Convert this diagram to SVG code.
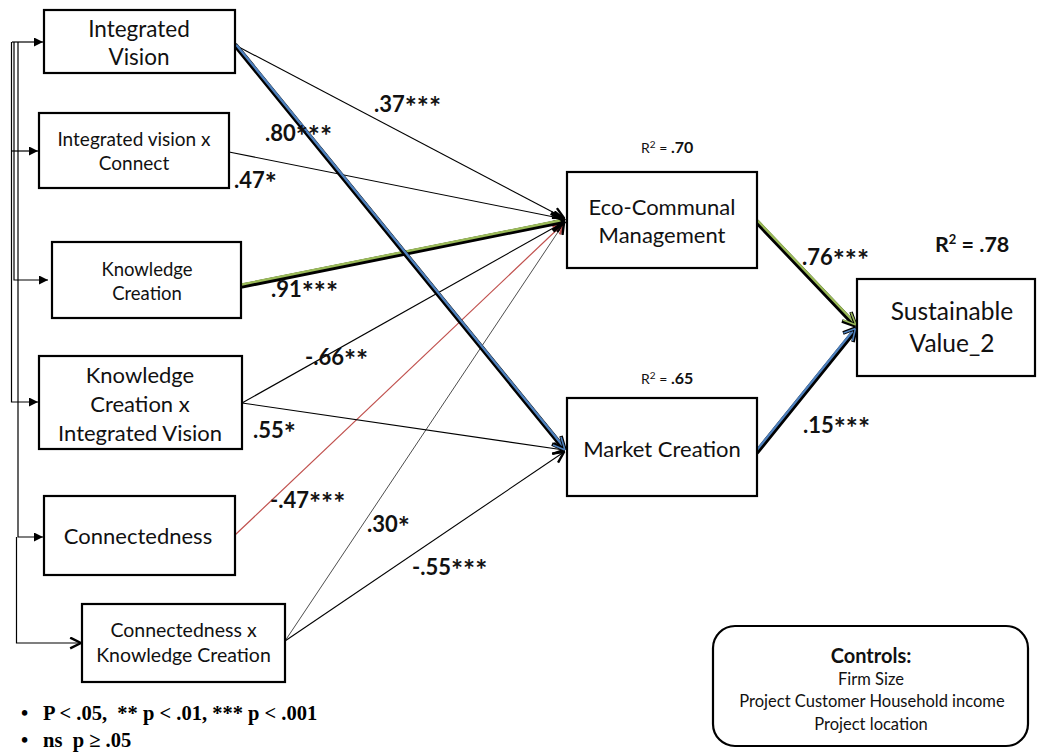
<svg xmlns="http://www.w3.org/2000/svg" width="1037" height="752" viewBox="0 0 1037 752">
  <style>
    .box { fill: #ffffff; stroke: #000000; stroke-width: 2.2; }
    .lbl { font-family: Lato, "Open Sans", sans-serif; fill: #111111; text-anchor: middle; }
    .coef { font-family: Lato, "Open Sans", sans-serif; font-weight: bold; font-size: 22px; fill: #111111; }
    .st { font-size: 28.5px; }
    .r2 { font-family: Lato, "Open Sans", sans-serif; font-size: 14px; fill: #111111; }
    .note { font-family: "Liberation Serif", "Times New Roman", serif; font-weight: bold; font-size: 20.5px; fill: #000000; }
    .thin { fill: none; stroke: #000000; stroke-width: 1.1; }
    .hair { fill: none; stroke: #000000; stroke-width: 0.7; }
    .red { fill: none; stroke: #c0504d; stroke-width: 1.2; }
    .shadow { fill: none; stroke: #000000; stroke-width: 5; stroke-linecap: round; }
    .blue { fill: none; stroke: #4f81bd; stroke-width: 2.4; stroke-linecap: round; }
    .green { fill: none; stroke: #9bbb59; stroke-width: 2.4; stroke-linecap: round; }
    .feed { fill: none; stroke: #000000; stroke-width: 1.2; }
  </style>
  <defs>
    <marker id="tri" viewBox="0 0 10 10" refX="10" refY="5" markerUnits="userSpaceOnUse" markerWidth="10" markerHeight="9" orient="auto">
      <path d="M0,0 L10,5 L0,10 z" fill="#000000"/>
    </marker>
    <marker id="vee" viewBox="0 0 12 12" refX="11" refY="6" markerUnits="userSpaceOnUse" markerWidth="13" markerHeight="13" orient="auto">
      <path d="M1,1 L11,6 L1,11" fill="none" stroke="#000000" stroke-width="2.2" stroke-linejoin="miter"/>
    </marker>
    <marker id="veeRed" viewBox="0 0 12 12" refX="11" refY="6" markerUnits="userSpaceOnUse" markerWidth="13" markerHeight="13" orient="auto">
      <path d="M1,1 L11,6 L1,11" fill="none" stroke="#c0504d" stroke-width="2.2"/>
    </marker>
  </defs>

  <rect width="1037" height="752" fill="#ffffff"/>

  <!-- feedback bracket on the left feeding every predictor -->
  <g id="bracket">
    <path class="feed" d="M12,42 H43" marker-end="url(#tri)"/>
    <path class="feed" d="M11.5,42 V402 H38" marker-end="url(#tri)"/>
    <path class="feed" d="M11.5,151 H38" marker-end="url(#tri)"/>
    <path class="feed" d="M14,42 V280 H48" marker-end="url(#tri)"/>
    <path class="feed" d="M18,42 V537 H43" marker-end="url(#tri)"/>
    <path class="feed" d="M16.5,537 V643 H81" marker-end="url(#vee)"/>
  </g>

  <!-- structural paths -->
  <g id="connectors">
    <!-- into Eco-Communal Management -->
    <path class="thin" d="M235,45 L564,218" marker-end="url(#vee)"/>
    <path class="thin" d="M229,152 L564,219" marker-end="url(#vee)"/>
    <path class="thin" d="M242,403 L564,222" marker-end="url(#vee)"/>
    <path class="red" d="M235,535 L564,223" marker-end="url(#veeRed)"/>
    <path class="hair" d="M285,641 L564,223" marker-end="url(#vee)"/>
    <!-- Knowledge Creation to Eco-Communal (bold green) -->
    <path class="shadow" d="M242,286 L560,222"/>
    <path class="green" d="M241.7,284.5 L559.7,220.5"/>
    <path d="M565,221 L551,213 M565,221 L553,231" fill="none" stroke="#000000" stroke-width="4"/>

    <!-- into Market Creation -->
    <path class="thin" d="M242,403 L564,450" marker-end="url(#vee)"/>
    <path class="thin" d="M285,641 L564,452" marker-end="url(#vee)"/>
    <!-- Integrated Vision to Market Creation (bold blue) -->
    <path class="shadow" d="M236,46 L561,445"/>
    <path class="blue" d="M236.8,45.4 L561.8,444.4"/>
    <path d="M565,450 L561,436 M565,450 L552,444" fill="none" stroke="#000000" stroke-width="3.6"/>
    <path d="M565,450 L561,437 M565,450 L553,445" fill="none" stroke="#4f81bd" stroke-width="1.6"/>

    <!-- into Sustainable Value_2 -->
    <path class="shadow" d="M757,222 L853,323"/>
    <path class="green" d="M758,221 L854,322"/>
    <path d="M856,326 L851,312 M856,326 L842,321" fill="none" stroke="#000000" stroke-width="3.6"/>
    <path d="M856,325 L851,312.5 M856,325 L843,320" fill="none" stroke="#9bbb59" stroke-width="1.6"/>

    <path class="shadow" d="M757,452 L853,333"/>
    <path class="blue" d="M756,451 L852,332"/>
    <path d="M856,328 L843,333 M856,328 L853,342" fill="none" stroke="#000000" stroke-width="3.6"/>
    <path d="M855.5,328.5 L843.5,333 M855.5,328.5 L852.5,341" fill="none" stroke="#4f81bd" stroke-width="1.6"/>
  </g>

  <!-- predictors -->
  <g id="integrated-vision">
    <rect class="box" x="44" y="10" width="191" height="63"/>
    <text class="lbl" font-size="22.5" x="139" y="37">Integrated</text>
    <text class="lbl" font-size="22.5" x="139" y="65">Vision</text>
  </g>
  <g id="iv-x-connect">
    <rect class="box" x="39" y="113" width="190" height="75"/>
    <text class="lbl" font-size="19" x="134" y="146">Integrated vision x</text>
    <text class="lbl" font-size="19" x="134" y="170">Connect</text>
  </g>
  <g id="knowledge-creation">
    <rect class="box" x="52" y="242" width="189" height="76"/>
    <text class="lbl" font-size="18.5" x="147" y="276">Knowledge</text>
    <text class="lbl" font-size="18.5" x="147" y="300">Creation</text>
  </g>
  <g id="kc-x-iv">
    <rect class="box" x="39" y="356" width="203" height="93"/>
    <text class="lbl" font-size="22" x="140" y="383">Knowledge</text>
    <text class="lbl" font-size="22" x="140" y="412">Creation x</text>
    <text class="lbl" font-size="22" x="140" y="441">Integrated Vision</text>
  </g>
  <g id="connectedness">
    <rect class="box" x="44" y="496" width="191" height="79"/>
    <text class="lbl" font-size="22" x="138" y="544">Connectedness</text>
  </g>
  <g id="conn-x-kc">
    <rect class="box" x="82" y="604" width="203" height="78"/>
    <text class="lbl" font-size="19.5" x="183.5" y="637">Connectedness x</text>
    <text class="lbl" font-size="19.5" x="183.5" y="662">Knowledge Creation</text>
  </g>

  <!-- mediators -->
  <g id="eco-communal">
    <rect class="box" x="567" y="172" width="190" height="96"/>
    <text class="lbl" font-size="22" x="662" y="215">Eco-Communal</text>
    <text class="lbl" font-size="22" x="662" y="243">Management</text>
    <text class="r2" x="641" y="153">R<tspan font-size="10" dy="-5">2</tspan><tspan dy="5"> = </tspan><tspan font-weight="bold" font-size="16">.70</tspan></text>
  </g>
  <g id="market-creation">
    <rect class="box" x="567" y="398" width="190" height="98"/>
    <text class="lbl" font-size="22" x="662" y="457">Market Creation</text>
    <text class="r2" x="641" y="384">R<tspan font-size="10" dy="-5">2</tspan><tspan dy="5"> = </tspan><tspan font-weight="bold" font-size="16">.65</tspan></text>
  </g>

  <!-- outcome -->
  <g id="sustainable-value">
    <rect class="box" x="857" y="279" width="178" height="97"/>
    <text class="lbl" font-size="24.5" x="952" y="320">Sustainable</text>
    <text class="lbl" font-size="24.5" x="952" y="352">Value_2</text>
    <text x="935" y="252" font-family="Lato, 'Open Sans', sans-serif" font-weight="bold" font-size="21.5" fill="#111111">R<tspan font-size="13" dy="-8">2</tspan><tspan dy="8"> = .78</tspan></text>
  </g>

  <!-- path coefficients -->
  <g id="coefficients">
    <text class="coef" x="374" y="112">.37<tspan class="st" dy="5">***</tspan></text>
    <text class="coef" x="265" y="141">.80<tspan class="st" dy="5">***</tspan></text>
    <text class="coef" x="234" y="188">.47<tspan class="st" dy="5">*</tspan></text>
    <text class="coef" x="271" y="297">.91<tspan class="st" dy="5">***</tspan></text>
    <text class="coef" x="305" y="365">-.66<tspan class="st" dy="5">**</tspan></text>
    <text class="coef" x="253" y="438">.55<tspan class="st" dy="5">*</tspan></text>
    <text class="coef" x="270" y="508">-.47<tspan class="st" dy="5">***</tspan></text>
    <text class="coef" x="367" y="532">.30<tspan class="st" dy="5">*</tspan></text>
    <text class="coef" x="412" y="575">-.55<tspan class="st" dy="5">***</tspan></text>
    <text class="coef" x="802" y="265">.76<tspan class="st" dy="5">***</tspan></text>
    <text class="coef" x="803" y="433">.15<tspan class="st" dy="5">***</tspan></text>
  </g>

  <!-- control variables -->
  <g id="controls">
    <rect class="box" x="713" y="626" width="315" height="120" rx="22" ry="22"/>
    <text class="lbl" font-size="20" font-weight="bold" x="871" y="663">Controls:</text>
    <text class="lbl" font-size="16.5" x="871" y="685">Firm Size</text>
    <text class="lbl" font-size="16.5" x="872" y="707">Project Customer Household income</text>
    <text class="lbl" font-size="16.5" x="871" y="730">Project location</text>
  </g>

  <!-- significance legend -->
  <g id="legend">
    <text class="note" x="21" y="720">•</text>
    <text class="note" x="43" y="720" xml:space="preserve">P &lt; .05,  ** p &lt; .01, *** p &lt; .001</text>
    <text class="note" x="21" y="747">•</text>
    <text class="note" x="43" y="747" xml:space="preserve">ns  p ≥ .05</text>
  </g>
</svg>
